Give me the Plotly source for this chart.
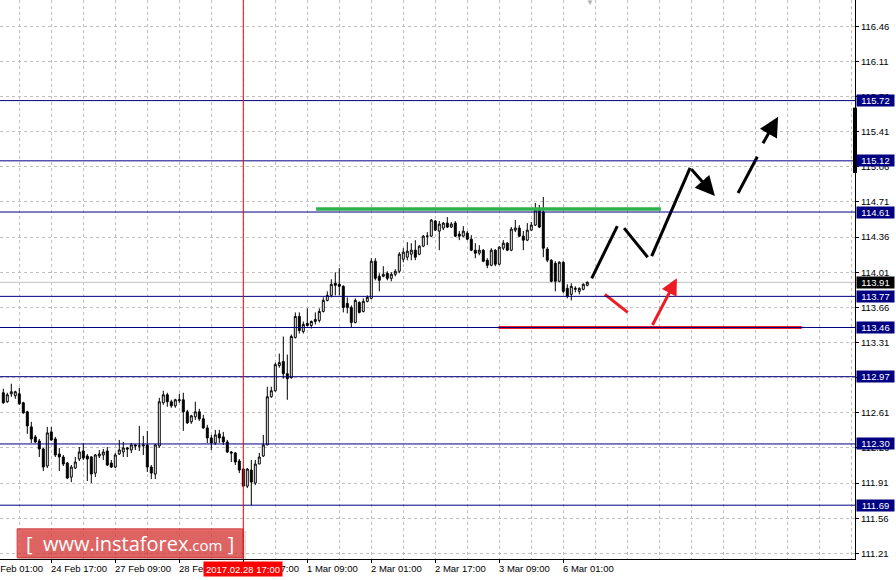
import plotly.graph_objects as go

# ── Data: H1 candles, 23 Feb – 6 Mar 2017 ─────────────────────────────────────

opens = [
    112.81, 112.72, 112.80, 112.78, 112.80, 112.71, 112.62, 112.47, 112.37, 112.33,
    112.25, 112.08, 112.42, 112.35, 112.20, 112.17, 112.11, 111.97, 112.06, 112.15,
    112.23, 112.18, 112.17, 112.01, 112.18, 112.19, 112.23, 112.11, 112.07, 112.20,
    112.22, 112.26, 112.24, 112.29, 112.28, 112.28, 112.29, 112.07, 112.00, 112.28,
    112.71, 112.79, 112.72, 112.68, 112.73, 112.74, 112.62, 112.52, 112.57, 112.62,
    112.55, 112.46, 112.36, 112.31, 112.40, 112.37, 112.32, 112.22, 112.21, 112.13,
    112.05, 111.88, 112.04, 111.91, 112.10, 112.18, 112.29, 112.77, 112.83, 113.08,
    113.12, 113.00, 112.96, 113.36, 113.57, 113.42, 113.50, 113.48, 113.52, 113.53,
    113.62, 113.73, 113.78, 113.90, 113.89, 113.87, 113.70, 113.66, 113.51, 113.71,
    113.62, 113.72, 113.75, 114.12, 113.97, 113.97, 114.00, 113.95, 113.99, 114.02,
    114.14, 114.16, 114.19, 114.23, 114.19, 114.27, 114.37, 114.37, 114.52, 114.42,
    114.45, 114.50, 114.46, 114.50, 114.39, 114.37, 114.40, 114.34, 114.23, 114.20,
    114.23, 114.13, 114.08, 114.23, 114.09, 114.25, 114.30, 114.23, 114.43, 114.45,
    114.37, 114.33, 114.43, 114.48, 114.63, 114.61, 114.24, 114.13, 114.10, 113.92,
    114.11, 113.85, 113.79, 113.84, 113.82, 113.84, 113.88,
]
highs = [
    112.85, 112.81, 112.90, 112.83, 112.86, 112.72, 112.63, 112.52, 112.39, 112.35,
    112.26, 112.47, 112.47, 112.37, 112.26, 112.19, 112.12, 112.09, 112.17, 112.27,
    112.31, 112.20, 112.18, 112.20, 112.24, 112.25, 112.27, 112.14, 112.21, 112.34,
    112.32, 112.27, 112.31, 112.30, 112.48, 112.38, 112.43, 112.09, 112.30, 112.76,
    112.83, 112.81, 112.74, 112.75, 112.80, 112.81, 112.64, 112.59, 112.72, 112.65,
    112.59, 112.49, 112.39, 112.44, 112.44, 112.42, 112.34, 112.23, 112.22, 112.15,
    112.06, 112.06, 112.14, 112.14, 112.21, 112.39, 112.87, 112.87, 113.11, 113.20,
    113.37, 113.19, 113.39, 113.61, 113.61, 113.52, 113.65, 113.53, 113.61, 113.65,
    113.76, 113.82, 113.94, 114.01, 114.05, 113.88, 113.76, 113.68, 113.75, 113.72,
    113.75, 113.78, 114.15, 114.15, 114.00, 114.07, 114.02, 114.01, 114.04, 114.21,
    114.25, 114.31, 114.30, 114.33, 114.28, 114.38, 114.41, 114.54, 114.53, 114.52,
    114.51, 114.56, 114.51, 114.52, 114.42, 114.47, 114.42, 114.38, 114.30, 114.28,
    114.24, 114.15, 114.25, 114.24, 114.27, 114.33, 114.31, 114.46, 114.53, 114.48,
    114.42, 114.50, 114.51, 114.70, 114.68, 114.76, 114.26, 114.14, 114.12, 114.12,
    114.12, 113.89, 113.90, 113.87, 113.86, 113.90, 113.92,
]
lows = [
    112.70, 112.71, 112.77, 112.75, 112.69, 112.60, 112.40, 112.31, 112.31, 112.17,
    112.03, 112.06, 112.33, 112.17, 112.03, 112.08, 111.95, 111.92, 112.05, 112.13,
    112.14, 111.93, 111.91, 111.97, 112.16, 112.14, 112.08, 112.06, 112.06, 112.19,
    112.17, 112.17, 112.21, 112.24, 112.23, 112.19, 112.02, 111.95, 111.95, 112.26,
    112.69, 112.67, 112.66, 112.66, 112.71, 112.43, 112.50, 112.50, 112.54, 112.53,
    112.45, 112.31, 112.24, 112.29, 112.31, 112.29, 112.21, 112.12, 112.09, 112.01,
    111.87, 111.86, 111.69, 111.89, 112.10, 112.17, 112.29, 112.76, 112.82, 113.06,
    112.95, 112.74, 112.95, 113.35, 113.40, 113.40, 113.47, 113.45, 113.49, 113.51,
    113.61, 113.72, 113.76, 113.78, 113.78, 113.61, 113.60, 113.46, 113.50, 113.60,
    113.61, 113.71, 113.74, 113.93, 113.82, 113.96, 113.93, 113.92, 113.97, 114.00,
    114.11, 114.13, 114.13, 114.13, 114.18, 114.26, 114.28, 114.36, 114.42, 114.23,
    114.43, 114.45, 114.45, 114.36, 114.33, 114.36, 114.33, 114.22, 114.15, 114.18,
    114.11, 114.05, 114.07, 114.07, 114.08, 114.23, 114.22, 114.22, 114.41, 114.36,
    114.23, 114.32, 114.42, 114.47, 114.45, 114.16, 114.11, 113.91, 113.82, 113.91,
    113.80, 113.75, 113.73, 113.81, 113.79, 113.83, 113.87,
]
closes = [
    112.71, 112.79, 112.82, 112.82, 112.70, 112.61, 112.48, 112.35, 112.32, 112.25,
    112.07, 112.41, 112.34, 112.19, 112.17, 112.10, 111.96, 112.07, 112.12, 112.22,
    112.16, 112.15, 112.00, 112.19, 112.20, 112.22, 112.09, 112.07, 112.19, 112.24,
    112.26, 112.25, 112.29, 112.28, 112.28, 112.29, 112.07, 112.01, 112.29, 112.72,
    112.79, 112.72, 112.68, 112.74, 112.74, 112.62, 112.51, 112.58, 112.62, 112.55,
    112.46, 112.36, 112.31, 112.39, 112.36, 112.32, 112.22, 112.21, 112.12, 112.04,
    111.88, 112.05, 111.92, 112.10, 112.17, 112.29, 112.77, 112.83, 113.09, 113.11,
    113.00, 112.95, 113.37, 113.57, 113.43, 113.49, 113.48, 113.52, 113.54, 113.62,
    113.73, 113.78, 113.89, 113.88, 113.87, 113.66, 113.66, 113.51, 113.73, 113.61,
    113.72, 113.76, 114.12, 113.95, 113.93, 113.99, 113.95, 113.99, 114.02, 114.19,
    114.21, 114.22, 114.23, 114.16, 114.27, 114.37, 114.37, 114.53, 114.43, 114.49,
    114.50, 114.46, 114.49, 114.37, 114.37, 114.42, 114.34, 114.23, 114.20, 114.23,
    114.12, 114.08, 114.23, 114.09, 114.26, 114.30, 114.23, 114.44, 114.45, 114.37,
    114.33, 114.43, 114.48, 114.63, 114.46, 114.25, 114.13, 113.92, 113.92, 114.11,
    113.82, 113.77, 113.87, 113.85, 113.85, 113.89, 113.91,
]
bar_index = list(range(len(closes)))

# time axis: one label every 16 bars, grid every 8 bars
time_ticks = [-4, 12, 28, 44, 60, 76, 92, 108, 124, 140]
time_labels = ["24 Feb 01:00", "24 Feb 17:00", "27 Feb 09:00", "28 Feb 01:00", "28 Feb 17:00",
               "1 Mar 09:00", "2 Mar 01:00", "2 Mar 17:00", "3 Mar 09:00", "6 Mar 01:00"]
grid_bars = list(range(4, 213, 8))
cursor_bar = 60
cursor_label = "2017.02.28 17:00"

# price axis
price_ticks = [111.21, 111.56, 111.91, 112.26, 112.61, 112.96, 113.31, 113.66,
               114.01, 114.36, 114.71, 115.06, 115.41, 115.76, 116.11, 116.46]
levels = [115.72, 115.12, 114.61, 113.77, 113.46, 112.97, 112.30, 111.69]
bid_price = 113.91

# drawn forecast objects (bar index, price)
green_x, green_y = [78.2, 164.4], [114.64, 114.64]
red_base_x, red_base_y = [123.8, 199.6], [113.46, 113.46]
red_dash_x, red_dash_y = [150.4, 156.1], [113.79, 113.61]
red_arrow = (162.1, 113.47, 168.4, 113.95)
black_segments = [
    ([147.1, 153.5], [113.95, 114.47]),
    ([155.2, 161.1], [114.45, 114.16]),
    ([162.1, 171.7], [114.17, 115.05]),
    ([183.7, 188.5], [114.80, 115.16]),
]
black_arrows = [(171.7, 115.05, 177.9, 114.77), (189.7, 115.28, 193.7, 115.56)]

assert len(opens) == len(highs) == len(lows) == len(closes)

# ── Figure ────────────────────────────────────────────────────────────────────

NAVY = "#000080"
GRID = "#c0c0c0"
FONT = "Liberation Sans"
X_RANGE = [-0.825, 212.925]

fig = go.Figure()
fig.add_trace(go.Candlestick(
    x=bar_index, open=opens, high=highs, low=lows, close=closes,
    increasing=dict(line=dict(color="black", width=1), fillcolor="white"),
    decreasing=dict(line=dict(color="black", width=1), fillcolor="black"),
    whiskerwidth=0, hoverinfo="skip", showlegend=False,
))

fig.add_hline(y=bid_price, line=dict(color=GRID, width=1), layer="below")
for lvl in levels:
    fig.add_hline(y=lvl, line=dict(color=NAVY, width=1))
fig.add_vline(x=cursor_bar, line=dict(color="red", width=1))

fig.add_trace(go.Scatter(x=green_x, y=green_y, mode="lines", line=dict(color="#2eb04b", width=3.5), hoverinfo="skip"))
fig.add_trace(go.Scatter(x=red_base_x, y=red_base_y, mode="lines", line=dict(color="#ed1c24", width=3), hoverinfo="skip"))
fig.add_trace(go.Scatter(x=red_dash_x, y=red_dash_y, mode="lines", line=dict(color="#ed1c24", width=3), hoverinfo="skip"))
for xs, ys in black_segments:
    fig.add_trace(go.Scatter(x=xs, y=ys, mode="lines", line=dict(color="black", width=3), hoverinfo="skip"))


def add_arrow(seg, color, size):
    x0, y0, x1, y1 = seg
    fig.add_annotation(x=x1, y=y1, ax=x0, ay=y0, xref="x", yref="y", axref="x", ayref="y", text="",
                       showarrow=True, arrowhead=2, arrowsize=size, arrowwidth=3, arrowcolor=color, standoff=0)


add_arrow(red_arrow, "#ed1c24", 1.1)
for seg in black_arrows:
    add_arrow(seg, "black", 1.3)

# level labels on the price scale
for lvl in levels:
    fig.add_annotation(x=1, y=lvl, xref="paper", yref="y", xanchor="left", xshift=1, text=f"{lvl:.2f}",
                       showarrow=False, bgcolor=NAVY, font=dict(family=FONT, size=9.5, color="white"),
                       width=35, height=9, borderpad=1)
fig.add_annotation(x=1, y=bid_price, xref="paper", yref="y", xanchor="left", xshift=1, text=f"{bid_price:.2f}",
                   showarrow=False, bgcolor="black", font=dict(family=FONT, size=9.5, color="white"),
                   width=35, height=9, borderpad=1)
fig.add_shape(type="line", xref="paper", yref="y", x0=1, x1=1, y0=115.00, y1=115.65, line=dict(color="black", width=4))

# time labels (left aligned at their tick, MT4 style); paper coords so the first one may be clipped at the edge
for tv, tl in zip(time_ticks, time_labels):
    px = (tv - X_RANGE[0]) / (X_RANGE[1] - X_RANGE[0])
    fig.add_annotation(x=px, y=0, xref="paper", yref="paper", xanchor="left", yanchor="top", xshift=-2, yshift=-2,
                       text=tl, showarrow=False, font=dict(family=FONT, size=9.5, color="black"))
fig.add_annotation(x=cursor_bar, y=0, xref="x", yref="paper", xanchor="center", yanchor="top", yshift=-2,
                   text=cursor_label, showarrow=False, bgcolor="#ff0000", width=76, height=12, borderpad=1,
                   font=dict(family=FONT, size=9.5, color="white"))

# chart shift marker
fig.add_annotation(x=146.6, y=1, xref="x", yref="paper", yanchor="top", yshift=6, text="▼", showarrow=False,
                   font=dict(size=8, color="#b0b0b0"))

# watermark
fig.add_shape(type="rect", xref="paper", yref="paper", x0=0.024, x1=0.288, y0=-0.002, y1=0.050,
              line=dict(width=0), fillcolor="rgba(0,0,0,0.12)")
fig.add_shape(type="rect", xref="paper", yref="paper", x0=0.020, x1=0.284, y0=0.002, y1=0.054,
              line=dict(color="rgba(200,40,40,0.8)", width=1), fillcolor="rgba(220,50,50,0.72)")
fig.add_annotation(x=0.152, y=0.028, xref="paper", yref="paper", xanchor="center", yanchor="middle",
                   showarrow=False,
                   text="[  www.instaforex<span style='font-size:15px'>.com</span> ]",
                   font=dict(family="Open Sans", size=20, color="white"))

fig.update_layout(
    width=896, height=580, margin=dict(l=0, r=41, t=0, b=21),
    plot_bgcolor="white", paper_bgcolor="white", showlegend=False,
    xaxis=dict(range=X_RANGE, rangeslider=dict(visible=False), tickvals=time_ticks[1:],
               showticklabels=False, ticks="outside", ticklen=3, tickcolor="black",
               showline=True, linecolor="black", linewidth=1, zeroline=False,
               showgrid=True, gridcolor=GRID, griddash="3px,3px", gridwidth=1,
               minor=dict(tickvals=grid_bars, showgrid=True, gridcolor=GRID, griddash="3px,3px", ticks="")),
    yaxis=dict(range=[111.154, 116.722], side="right", tickvals=price_ticks,
               ticktext=[f"{v:.2f}" for v in price_ticks], ticks="outside", ticklen=3, tickcolor="black",
               tickfont=dict(family="Liberation Sans Narrow, Liberation Sans", size=9.5, color="black"),
               showline=True, linecolor="black", linewidth=1, zeroline=False,
               showgrid=True, gridcolor=GRID, griddash="3px,3px", gridwidth=1),
)

fig.write_html("out.html", config={"displayModeBar": False},
               post_script="document.body.style.margin='0';")
